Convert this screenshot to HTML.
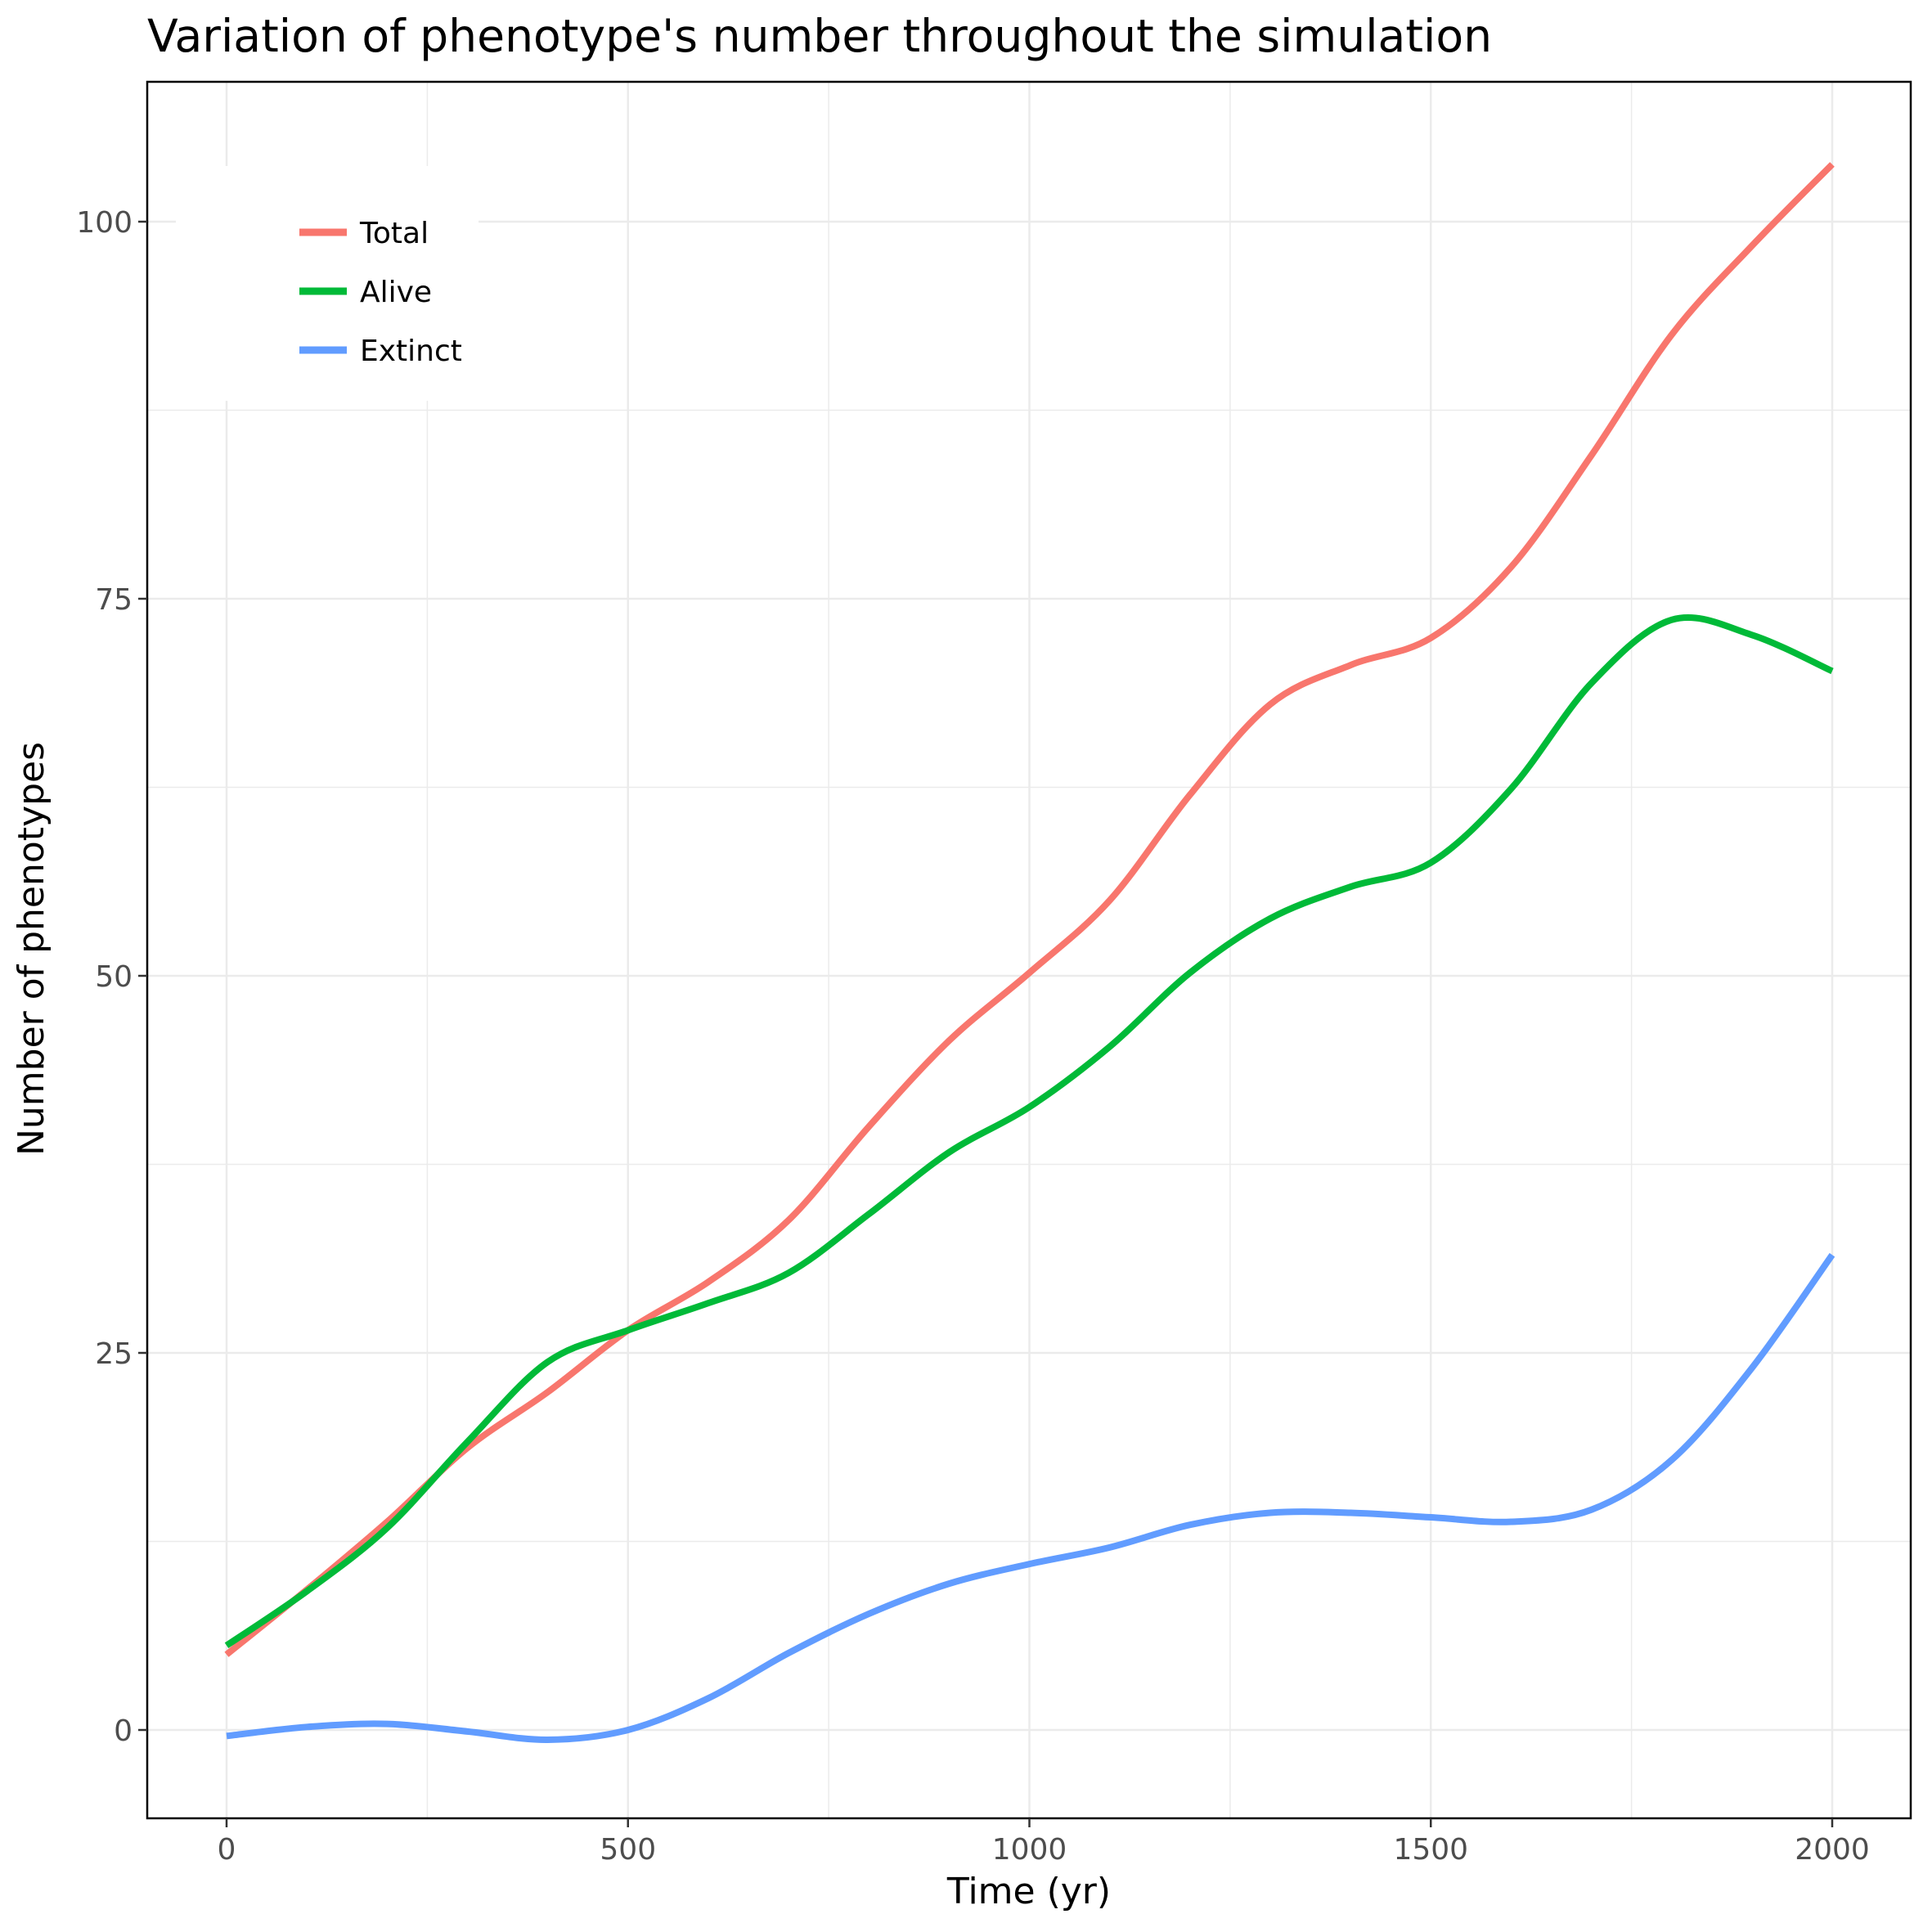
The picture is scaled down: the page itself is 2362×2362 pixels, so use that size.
<!DOCTYPE html>
<html><head><meta charset="utf-8"><style>
html,body{margin:0;padding:0;background:#fff}
svg{display:block}
text{font-family:"DejaVu Sans","Liberation Sans",sans-serif}
</style></head><body>
<svg id="chart" width="2362" height="2362" viewBox="0 0 2362 2362" xmlns="http://www.w3.org/2000/svg">
<rect x="0" y="0" width="2362" height="2362" fill="#fff"/>
<text x="180" y="63" font-size="55.2" fill="#000">Variation of phenotype's number throughout the simulation</text>
<g id="grid"></g>
<g id="series"></g>
<rect x="180" y="100" width="2156" height="2123" fill="none" stroke="#000" stroke-width="2.5"/>
<g id="axes"></g>
<text x="1258" y="2327" font-size="44" text-anchor="middle" fill="#000">Time (yr)</text>
<text transform="translate(53,1160) rotate(-90)" font-size="44" text-anchor="middle" fill="#000">Number of phenotypes</text>
<g id="legend"></g>
</svg>
<script>
const years = [0,100,200,300,400,500,600,700,800,900,1000,1100,1200,1300,1400,1500,1600,1700,1800,1900,2000];
const totalVals = [5,9.3,13.8,18.7,22.4,26.5,29.7,33.8,40,45.7,50.2,55,62,68,70.6,72.4,77.1,84.5,92.5,98.4,103.8];
const aliveVals = [5.6,9.2,13.4,19.1,24.4,26.5,28.3,30.3,34.2,38.3,41.3,45.3,50.2,53.8,55.9,57.5,62.4,69.4,73.6,72.6,70.2];
const extinctVals = [-0.4,0.2,0.4,-0.1,-0.65,0,2.1,5.1,7.7,9.7,11,12.1,13.6,14.4,14.4,14.1,13.8,14.6,17.9,24,31.5];
const xTicks = [0,500,1000,1500,2000];
const xMinor = [250,750,1250,1750];
const yTicks = [0,25,50,75,100];
const yMinor = [12.5,37.5,62.5,87.5];
const seriesNames = ["Total","Alive","Extinct"];
const seriesColors = ["#F8766D","#00BA38","#619CFF"];

const NS = "http://www.w3.org/2000/svg";
const PL = 180, PR = 2336, PT = 100, PB = 2223;
function xs(t){ return 277 + (t - 0) * (2240 - 277) / 2000; }
function ys(v){ return 2115 - v * (2115 - 271) / 100; }
function mk(tag, attrs, parent){ const e = document.createElementNS(NS, tag); for (const k in attrs) e.setAttribute(k, attrs[k]); parent.appendChild(e); return e; }

const grid = document.getElementById('grid');
xMinor.forEach(t => { const l = mk('line', {x1: xs(t), x2: xs(t), y1: PT, y2: PB, stroke: '#ebebeb', 'stroke-width': 1.5}, grid);

 });
yMinor.forEach(v => { const l = mk('line', {x1: PL, x2: PR, y1: ys(v), y2: ys(v), stroke: '#ebebeb', 'stroke-width': 1.5}, grid);

 });
xTicks.forEach(t => { const l = mk('line', {x1: xs(t), x2: xs(t), y1: PT, y2: PB, stroke: '#ebebeb', 'stroke-width': 2.5}, grid);

 });
yTicks.forEach(v => { const l = mk('line', {x1: PL, x2: PR, y1: ys(v), y2: ys(v), stroke: '#ebebeb', 'stroke-width': 2.5}, grid);

 });

function pathFor(vals){
  const p = years.map((t, i) => [xs(t), ys(vals[i])]);
  let d = 'M' + p[0][0] + ',' + p[0][1];
  for (let i = 0; i < p.length - 1; i++) {
    const p0 = p[Math.max(0, i - 1)], p1 = p[i], p2 = p[i + 1], p3 = p[Math.min(p.length - 1, i + 2)];
    const c1 = [p1[0] + (p2[0] - p0[0]) / 6, p1[1] + (p2[1] - p0[1]) / 6];
    const c2 = [p2[0] - (p3[0] - p1[0]) / 6, p2[1] - (p3[1] - p1[1]) / 6];
    d += ' C' + c1 + ' ' + c2 + ' ' + p2;
  }
  return d;
}
const sg = document.getElementById('series');
[totalVals, aliveVals, extinctVals].forEach((vals, i) => {
  const e = mk('path', {d: pathFor(vals), fill: 'none', stroke: seriesColors[i], 'stroke-width': 8, 'stroke-linejoin': 'round'}, sg);
  
  
});

const ax = document.getElementById('axes');
xTicks.forEach(t => {
  const l = mk('line', {x1: xs(t), x2: xs(t), y1: PB, y2: PB + 11, stroke: '#333', 'stroke-width': 2.5}, ax);
  
  
  const tx = mk('text', {x: xs(t), y: PB + 50, 'font-size': 36, 'text-anchor': 'middle', fill: '#4d4d4d'}, ax);
  tx.textContent = t;
  
  
});
yTicks.forEach(v => {
  const l = mk('line', {x1: PL - 11, x2: PL, y1: ys(v), y2: ys(v), stroke: '#333', 'stroke-width': 2.5}, ax);
  
  
  const tx = mk('text', {x: PL - 18, y: ys(v) + 13, 'font-size': 36, 'text-anchor': 'end', fill: '#4d4d4d'}, ax);
  tx.textContent = v;
  
  
});

const lg = document.getElementById('legend');
const bg = mk('rect', {x: 215, y: 203, width: 370, height: 287, fill: '#fff'}, lg);


seriesNames.forEach((n, i) => {
  const y = 284 + i * 72;
  const l = mk('line', {x1: 366, x2: 424, y1: y, y2: y, stroke: seriesColors[i], 'stroke-width': 9}, lg);
  
  
  const tx = mk('text', {x: 440, y: y + 13, 'font-size': 36, fill: '#000'}, lg);
  tx.textContent = n;
  
  
});
</script>
</body></html>
